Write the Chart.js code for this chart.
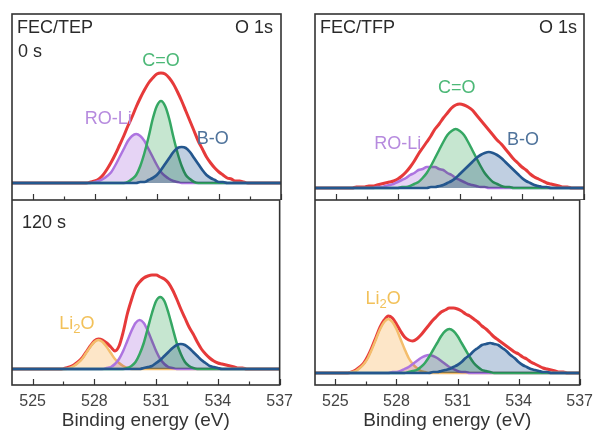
<!DOCTYPE html>
<html>
<head>
<meta charset="utf-8">
<title>O 1s XPS fits</title>
<script src="https://cdn.jsdelivr.net/npm/chart.js@4.4.0/dist/chart.umd.min.js"></script>
<style>
  html, body { margin: 0; padding: 0; background: #fff; }
  body { width: 600px; height: 433px; position: relative; overflow: hidden; }
  .panel { position: absolute; }
  #tl { left: 0; top: 0; width: 300px; height: 200px; }
  #bl { left: 0; top: 200px; width: 300px; height: 233px; }
  #tr { left: 300px; top: 0; width: 300px; height: 200px; }
  #br { left: 300px; top: 200px; width: 300px; height: 233px; }
</style>
</head>
<body>
<div class="panel" id="tl"><canvas id="cTL"></canvas></div>
<div class="panel" id="bl"><canvas id="cBL"></canvas></div>
<div class="panel" id="tr"><canvas id="cTR"></canvas></div>
<div class="panel" id="br"><canvas id="cBR"></canvas></div>
<script>
// Binding energy grid (eV), 0.2 eV steps
const energy = [
  524.0, 524.2, 524.4, 524.6, 524.8,  525.0, 525.2, 525.4, 525.6, 525.8,
  526.0, 526.2, 526.4, 526.6, 526.8,  527.0, 527.2, 527.4, 527.6, 527.8,
  528.0, 528.2, 528.4, 528.6, 528.8,  529.0, 529.2, 529.4, 529.6, 529.8,
  530.0, 530.2, 530.4, 530.6, 530.8,  531.0, 531.2, 531.4, 531.6, 531.8,
  532.0, 532.2, 532.4, 532.6, 532.8,  533.0, 533.2, 533.4, 533.6, 533.8,
  534.0, 534.2, 534.4, 534.6, 534.8,  535.0, 535.2, 535.4, 535.6, 535.8,
  536.0, 536.2, 536.4, 536.6, 536.8,  537.0
];
const tickValues = [525, 528, 531, 534, 537];
const minorTickValues = [526.5, 529.5, 532.5, 535.5];

// FEC/TEP, 0 s (intensity, a.u.)
const tlEnvelope = [0,0,0,0,0, 0,0,0,0,0, 0,0,0,0,0, 0,0,0,0,1, 2,4,8,14,21, 29,38,47,57,66, 76,85,93,100,105, 109,110,109,105,99, 91,82,72,62,52, 42,34,26,20,15, 11,8,5,4,2, 2,1,0,0,0, 0,0,0,0,0, 0];
const tlROLi     = [0,0,0,0,0, 0,0,0,0,0, 0,0,0,0,0, 0,0,0,0,0, 1,2,4,7,11, 18,26,34,42,47, 49,47,42,34,26, 18,11,7,4,2, 1,0,0,0,0, 0,0,0,0,0, 0,0,0,0,0, 0,0,0,0,0, 0,0,0,0,0, 0];
const tlCO       = [0,0,0,0,0, 0,0,0,0,0, 0,0,0,0,0, 0,0,0,0,0, 0,0,0,0,0, 0,0,0,1,4, 8,17,30,46,64, 77,82,77,64,46, 30,17,8,4,1, 0,0,0,0,0, 0,0,0,0,0, 0,0,0,0,0, 0,0,0,0,0, 0];
const tlBO       = [0,0,0,0,0, 0,0,0,0,0, 0,0,0,0,0, 0,0,0,0,0, 0,0,0,0,0, 0,0,0,0,0, 0,1,1,3,5, 8,13,19,25,31, 35,36,35,31,25, 19,13,8,5,3, 1,1,0,0,0, 0,0,0,0,0, 0,0,0,0,0, 0];

// FEC/TFP, 0 s
const trEnvelope = [0,0,0,0,0, 0,0,0,0,0, 1,1,1,2,2, 3,4,5,6,7, 9,12,16,21,27, 34,40,46,52,59, 64,70,75,80,83, 84,83,81,78,73, 68,63,58,53,48, 44,39,34,29,25, 21,18,14,11,9, 7,5,4,3,2, 1,1,0,0,0, 0];
const trROLi     = [0,0,0,0,0, 0,0,0,0,0, 0,0,0,0,0, 1,1,2,3,4, 6,8,10,13,15, 18,19,21,21,21, 19,18,15,13,10, 8,6,4,3,2, 1,1,0,0,0, 0,0,0,0,0, 0,0,0,0,0, 0,0,0,0,0, 0,0,0,0,0, 0];
const trCO       = [0,0,0,0,0, 0,0,0,0,0, 0,0,0,0,0, 0,0,0,0,0, 0,1,1,2,4, 6,10,15,22,30, 38,46,53,57,59, 57,53,46,38,30, 22,15,10,6,4, 2,1,1,0,0, 0,0,0,0,0, 0,0,0,0,0, 0,0,0,0,0, 0];
const trBO       = [0,0,0,0,0, 0,0,0,0,0, 0,0,0,0,0, 0,0,0,0,0, 0,0,0,0,0, 0,0,0,1,1, 2,3,5,7,10, 14,18,22,26,30, 33,35,36,35,33, 30,26,22,18,14, 10,7,5,3,2, 1,1,0,0,0, 0,0,0,0,0, 0];

// FEC/TEP, 120 s
const blEnvelope = [0,0,0,0,0, 0,0,0,0,0, 0,0,0,1,2, 4,7,11,17,23, 28,30,29,26,22, 18,23,37,55,69, 81,87,91,93,94, 94,92,90,86,79, 70,60,51,42,35, 27,20,15,11,8, 6,5,4,3,2, 1,1,0,0,0, 0,0,0,0,0, 0];
const blLi2O     = [0,0,0,0,0, 0,0,0,0,0, 0,0,0,0,1, 3,6,10,16,22, 27,29,27,22,16, 10,6,3,1,0, 0,0,0,0,0, 0,0,0,0,0, 0,0,0,0,0, 0,0,0,0,0, 0,0,0,0,0, 0,0,0,0,0, 0,0,0,0,0, 0];
const blROLi     = [0,0,0,0,0, 0,0,0,0,0, 0,0,0,0,0, 0,0,0,0,0, 0,0,0,1,2, 5,10,18,28,38, 46,49,46,38,28, 18,10,5,2,1, 0,0,0,0,0, 0,0,0,0,0, 0,0,0,0,0, 0,0,0,0,0, 0,0,0,0,0, 0];
const blCO       = [0,0,0,0,0, 0,0,0,0,0, 0,0,0,0,0, 0,0,0,0,0, 0,0,0,0,0, 0,0,0,1,3, 7,15,26,41,56, 68,72,68,56,41, 26,15,7,3,1, 0,0,0,0,0, 0,0,0,0,0, 0,0,0,0,0, 0,0,0,0,0, 0];
const blBO       = [0,0,0,0,0, 0,0,0,0,0, 0,0,0,0,0, 0,0,0,0,0, 0,0,0,0,0, 0,0,0,0,0, 0,0,1,2,3, 6,9,13,17,21, 24,25,24,21,17, 13,9,6,3,2, 1,0,0,0,0, 0,0,0,0,0, 0,0,0,0,0, 0];

// FEC/TFP, 120 s
const brEnvelope = [0,0,0,0,0, 0,0,0,0,1, 3,6,10,17,26, 36,46,53,57,55, 49,42,36,33,32, 34,38,43,48,53, 57,61,63,65,65, 64,62,59,57,54, 51,47,44,40,36, 33,30,27,24,21, 19,16,14,11,9, 7,5,4,3,2, 1,1,0,0,0, 0];
const brLi2O     = [0,0,0,0,0, 0,0,0,0,1, 2,5,9,15,24, 34,44,51,54,51, 44,34,24,15,9, 5,2,1,0,0, 0,0,0,0,0, 0,0,0,0,0, 0,0,0,0,0, 0,0,0,0,0, 0,0,0,0,0, 0,0,0,0,0, 0,0,0,0,0, 0];
const brROLi     = [0,0,0,0,0, 0,0,0,0,0, 0,0,0,0,0, 0,0,0,0,1, 1,2,4,6,9, 12,15,17,18,17, 15,12,9,6,4, 2,1,1,0,0, 0,0,0,0,0, 0,0,0,0,0, 0,0,0,0,0, 0,0,0,0,0, 0,0,0,0,0, 0];
const brCO       = [0,0,0,0,0, 0,0,0,0,0, 0,0,0,0,0, 0,0,0,0,0, 0,0,0,1,2, 3,6,10,16,23, 30,37,42,44,42, 37,30,23,16,10, 6,3,2,1,0, 0,0,0,0,0, 0,0,0,0,0, 0,0,0,0,0, 0,0,0,0,0, 0];
const brBO       = [0,0,0,0,0, 0,0,0,0,0, 0,0,0,0,0, 0,0,0,0,0, 0,0,0,0,0, 0,0,0,0,1, 1,2,3,4,6, 8,11,15,18,22, 25,28,29,30,29, 28,25,22,18,15, 11,8,6,4,3, 2,1,1,0,0, 0,0,0,0,0, 0];

const FONT = "'Liberation Sans', Arial, Helvetica, sans-serif";
const RED = '#e63a3a';
const GREEN = { line: '#35a763', fill: '#c6e6d0', text: '#4cb877' };
const PURPLE = { line: '#ad74e0', fill: '#e6d4f5', text: '#b68ade' };
const BLUE = { line: '#24578e', fill: '#c0cfe1', text: '#4f739b' };
const ORANGE = { line: '#f4bd6c', fill: '#fde6c8', text: '#f2c15a' };

function drawLabel(ctx, p, x, y) {
  const big = `18px ${FONT}`, small = `13px ${FONT}`;
  const parts = p.parts || [[p.text, false]];
  let w = 0;
  parts.forEach(([t, sub]) => { ctx.font = sub ? small : big; w += ctx.measureText(t).width; });
  let cx = x - w / 2;
  ctx.textAlign = 'left';
  ctx.fillStyle = p.color;
  parts.forEach(([t, sub]) => {
    ctx.font = sub ? small : big;
    ctx.fillText(t, cx, sub ? y + 5 : y);
    cx += ctx.measureText(t).width;
  });
}

// fills multiply where components overlap, lines stay plain
const panelText = {
  id: 'panelText',
  beforeDatasetsDraw(chart) { chart.ctx.globalCompositeOperation = 'multiply'; },
  beforeDatasetDraw(chart) { chart.ctx.globalCompositeOperation = 'source-over'; },
  afterDatasetDraw(chart) { chart.ctx.globalCompositeOperation = 'multiply'; },
  afterDatasetsDraw(chart) { chart.ctx.globalCompositeOperation = 'source-over'; },
  afterDraw(chart, args, opts) {
    const ctx = chart.ctx, area = chart.chartArea;
    const xs = chart.scales.x, ys = chart.scales.y;
    ctx.save();
    ctx.strokeStyle = '#333';
    ctx.lineWidth = 1.2;
    ctx.beginPath();
    tickValues.forEach(v => {
      const px = Math.round(xs.getPixelForValue(v)) + 0.5;
      ctx.moveTo(px, area.bottom); ctx.lineTo(px, area.bottom - 6);
    });
    minorTickValues.forEach(v => {
      const px = Math.round(xs.getPixelForValue(v)) + 0.5;
      ctx.moveTo(px, area.bottom); ctx.lineTo(px, area.bottom - 3.5);
    });
    ctx.stroke();
    ctx.lineWidth = 1.6;
    ctx.strokeRect(area.left, area.top, area.right - area.left, area.bottom - area.top);

    ctx.font = `18px ${FONT}`;
    ctx.textBaseline = 'middle';
    ctx.fillStyle = '#2a2a2a';
    (opts.corner || []).forEach(c => {
      ctx.textAlign = c.align;
      const x = c.align === 'left' ? area.left + c.dx : area.right + c.dx;
      ctx.fillText(c.text, x, area.top + c.dy);
    });
    (opts.peaks || []).forEach(p => drawLabel(ctx, p, xs.getPixelForValue(p.e), ys.getPixelForValue(p.v)));
    ctx.restore();
  }
};

function makePanel(id, series, yRange, bottomAxis, padding, text) {
  const xScale = {
    type: 'linear', min: 524, max: 537, display: bottomAxis,
    afterBuildTicks: s => { s.ticks = tickValues.map(v => ({ value: v })); },
    grid: { display: false, drawTicks: false },
    border: { display: false },
    ticks: { font: { size: 16, family: FONT }, color: '#444', padding: 7, maxRotation: 0, autoSkip: false },
    title: { display: true, text: 'Binding energy (eV)', font: { size: 19, family: FONT }, color: '#333', padding: { top: 0, bottom: 1 } }
  };
  if (bottomAxis) xScale.afterFit = s => { s.height = 48; };

  new Chart(document.getElementById(id), {
    type: 'line',
    data: {
      datasets: series.map(s => ({
        data: energy.map((e, i) => ({ x: e, y: s.values[i] })),
        borderColor: s.color,
        borderWidth: s.width,
        backgroundColor: s.fill || 'transparent',
        fill: s.fill ? 'origin' : false,
        pointRadius: 0,
        cubicInterpolationMode: 'monotone'
      }))
    },
    options: {
      responsive: true,
      maintainAspectRatio: false,
      animation: false,
      events: [],
      layout: { padding },
      plugins: { legend: { display: false }, tooltip: { enabled: false }, panelText: text },
      scales: {
        x: xScale,
        y: { display: false, min: yRange[0], max: yRange[1] }
      }
    },
    plugins: [panelText]
  });
}

const bo = v => ({ values: v, color: BLUE.line, fill: BLUE.fill, width: 2.7 });
const co = v => ({ values: v, color: GREEN.line, fill: GREEN.fill, width: 2.5 });
const roli = v => ({ values: v, color: PURPLE.line, fill: PURPLE.fill, width: 2.5 });
const li2o = v => ({ values: v, color: ORANGE.line, fill: ORANGE.fill, width: 2.5 });
const env = v => ({ values: v, color: RED, fill: null, width: 3 });

makePanel('cTL', [bo(tlBO), co(tlCO), roli(tlROLi), env(tlEnvelope)], [-17, 169], false,
  { left: 12, right: 19, top: 14, bottom: 0 },
  {
    corner: [
      { text: 'FEC/TEP', align: 'left', dx: 5, dy: 14 },
      { text: 'O 1s', align: 'right', dx: -8, dy: 14 },
      { text: '0 s', align: 'left', dx: 6, dy: 38.5 }
    ],
    peaks: [
      { text: 'C=O', e: 531.2, v: 121.5, color: GREEN.text },
      { text: 'RO-Li', e: 528.65, v: 63.5, color: PURPLE.text },
      { text: 'B-O', e: 533.7, v: 43.5, color: BLUE.text }
    ]
  });

makePanel('cTR', [bo(trBO), co(trCO), roli(trROLi), env(trEnvelope)], [-12, 174], false,
  { left: 15, right: 16, top: 14, bottom: 0 },
  {
    corner: [
      { text: 'FEC/TFP', align: 'left', dx: 5, dy: 14 },
      { text: 'O 1s', align: 'right', dx: -7, dy: 14 }
    ],
    peaks: [
      { text: 'C=O', e: 530.85, v: 99.5, color: GREEN.text },
      { text: 'RO-Li', e: 528.0, v: 43.5, color: PURPLE.text },
      { text: 'B-O', e: 534.05, v: 48, color: BLUE.text }
    ]
  });

makePanel('cBL', [bo(blBO), co(blCO), roli(blROLi), li2o(blLi2O), env(blEnvelope)], [-16, 169], true,
  { left: 12, right: 19, top: 0, bottom: 0 },
  {
    corner: [{ text: '120 s', align: 'left', dx: 10, dy: 23 }],
    peaks: [{ parts: [['Li', false], ['2', true], ['O', false]], e: 527.15, v: 45, color: ORANGE.text }]
  });

makePanel('cBR', [bo(brBO), co(brCO), roli(brROLi), li2o(brLi2O), env(brEnvelope)], [-12, 173], true,
  { left: 15, right: 16, top: 0, bottom: 0 },
  {
    corner: [],
    peaks: [{ parts: [['Li', false], ['2', true], ['O', false]], e: 527.35, v: 74, color: ORANGE.text }]
  });
</script>
</body>
</html>
